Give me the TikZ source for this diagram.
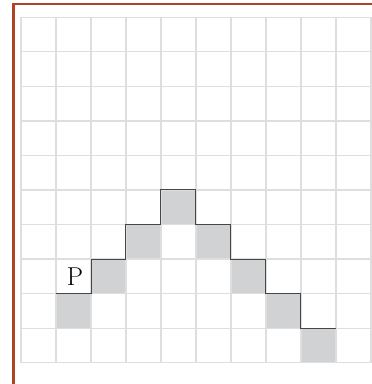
\documentclass[tikz,border=0pt]{standalone}
\usepackage{tikz}
\usepackage{color}

\definecolor{framebrown}{RGB}{176,68,34}
\definecolor{gridgray}{RGB}{222,222,222}
\definecolor{cellgray}{RGB}{209,210,212}
\definecolor{stairgray}{RGB}{70,70,70}

\tikzset{
  gridline/.style={draw=gridgray, line width=1pt},
  shadecell/.style={fill=cellgray},
  stairline/.style={draw=stairgray, line width=0.8pt},
  letter/.style={font=\fontsize{21}{25}\selectfont, inner sep=0pt}
}

\begin{document}
\begin{tikzpicture}[x=1cm, y=0.987cm]
\useasboundingbox (-0.6,-0.617) rectangle (10.029,10.5);
\clip (-0.6,-0.617) rectangle (10.029,10.5);
% outer frame
\draw [framebrown, line width=1.9pt] (-0.212,-0.66) rectangle (10.4,10.385);
% shaded cells under the steps
\foreach \c/\r in {1/1, 2/2, 3/3, 4/4, 5/3, 6/2, 7/1, 8/0}
  \fill [shadecell] (\c,\r) rectangle ++(1,1);
% grid
\foreach \i in {0,...,10} {
  \draw [gridline] (\i,0) -- (\i,10);
  \draw [gridline] (0,\i) -- (10,\i);
}
% staircase
\coordinate (s0) at (1,2);
\coordinate (s1) at (9,1);
\draw [stairline] (s0) -- ++(1,0) -- ++(0,1) -- ++(1,0) -- ++(0,1) -- ++(1,0)
  -- ++(0,1) -- ++(1,0) -- ++(0,-1) -- ++(1,0) -- ++(0,-1) -- ++(1,0)
  -- ++(0,-1) -- ++(1,0) -- ++(0,-1) -- (s1);
\node [letter] (p) at (1.54,2.48) {P};
\end{tikzpicture}
\end{document}
